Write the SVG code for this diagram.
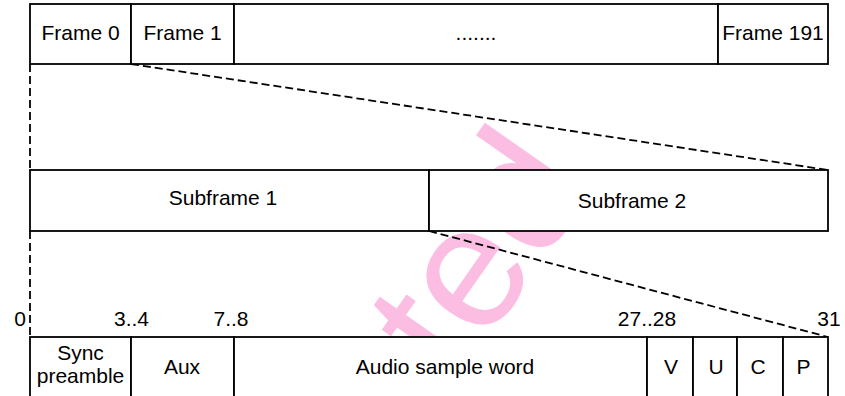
<svg xmlns="http://www.w3.org/2000/svg" width="845" height="396" viewBox="0 0 845 396">
<style>
.box{fill:#fff;stroke:#000;stroke-width:1.8}
.t{font-family:"Liberation Sans",Arial,sans-serif;font-size:21px;fill:#000;text-anchor:middle}
.dash{fill:none;stroke:#000;stroke-width:1.8;stroke-dasharray:8 4}
.wm{font-family:"Liberation Sans",Arial,sans-serif;font-size:175px;fill:#FCBDE2}
</style>
<rect width="845" height="396" fill="#fff"/>
<g id="watermark">
<text class="wm" transform="translate(456,385) rotate(-55)">ted</text>
</g>
<g id="connectors">
<line class="dash" x1="30" y1="64" x2="30" y2="170"/>
<line class="dash" x1="131" y1="64" x2="828" y2="170"/>
<line class="dash" x1="30" y1="231" x2="30" y2="337"/>
<line class="dash" x1="429" y1="231" x2="828" y2="337"/>
</g>
<g id="frame0"><rect class="box" x="30" y="4" width="101" height="60"/><text class="t" x="80.5" y="40">Frame 0</text></g>
<g id="frame1"><rect class="box" x="131" y="4" width="103" height="60"/><text class="t" x="182.5" y="40">Frame 1</text></g>
<g id="frames-more"><rect class="box" x="234" y="4" width="484" height="60"/><text class="t" x="476" y="40">.......</text></g>
<g id="frame191"><rect class="box" x="718" y="4" width="110" height="60"/><text class="t" x="773" y="40">Frame 191</text></g>
<g id="subframe1"><rect class="box" x="30" y="170" width="399" height="61"/><text class="t" x="223" y="205">Subframe 1</text></g>
<g id="subframe2"><rect class="box" x="429" y="170" width="399" height="61"/><text class="t" x="632" y="208">Subframe 2</text></g>
<g id="sync"><rect class="box" x="30" y="337" width="101" height="62"/><text class="t" x="80.5" y="360">Sync</text><text class="t" x="80.5" y="383">preamble</text></g>
<g id="aux"><rect class="box" x="131" y="337" width="103" height="62"/><text class="t" x="182" y="374">Aux</text></g>
<g id="audio"><rect class="box" x="234" y="337" width="413" height="62"/><text class="t" x="445" y="374">Audio sample word</text></g>
<g id="v"><rect class="box" x="647" y="337" width="46" height="62"/><text class="t" x="671" y="374">V</text></g>
<g id="u"><rect class="box" x="693" y="337" width="44" height="62"/><text class="t" x="716" y="374">U</text></g>
<g id="c"><rect class="box" x="737" y="337" width="46" height="62"/><text class="t" x="758" y="374">C</text></g>
<g id="p"><rect class="box" x="783" y="337" width="45" height="62"/><text class="t" x="803.5" y="374">P</text></g>
<g id="bit-labels">
<text class="t" x="20" y="326">0</text>
<text class="t" x="131.5" y="326">3..4</text>
<text class="t" x="231" y="326">7..8</text>
<text class="t" x="647" y="326">27..28</text>
<text class="t" x="829" y="326">31</text>
</g>
</svg>
